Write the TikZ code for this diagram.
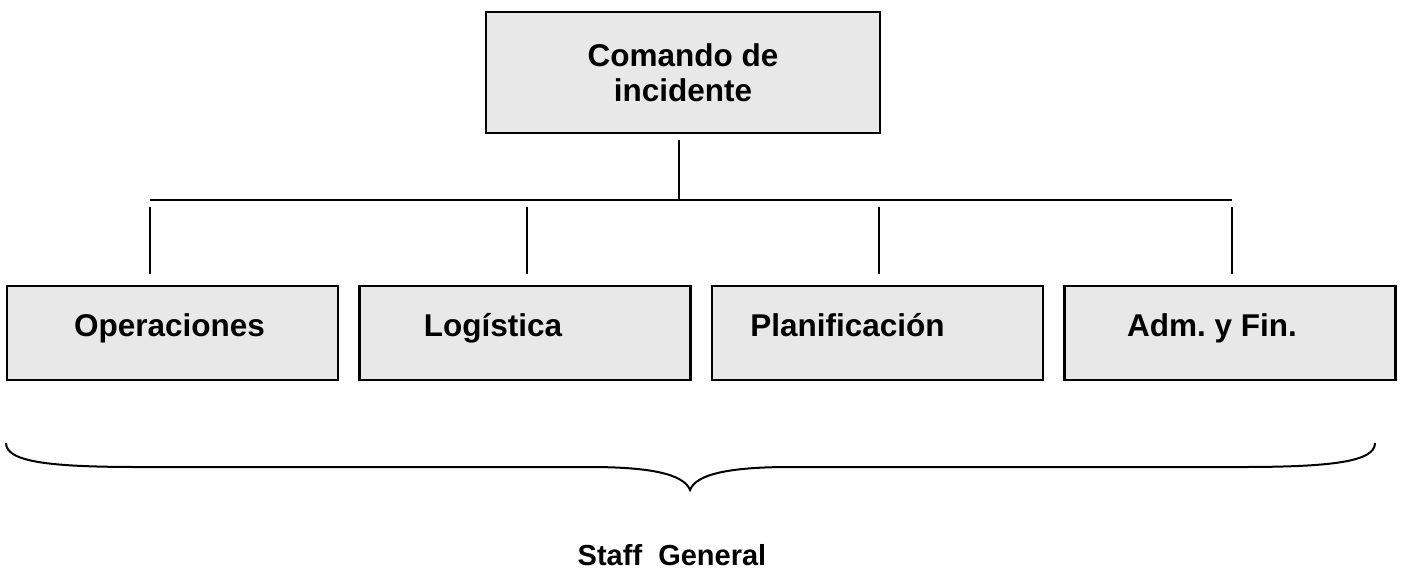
\documentclass[tikz,border=0pt]{standalone}
\usepackage{fontspec}
\setmainfont{Liberation Sans}
\frenchspacing

\begin{document}
\begin{tikzpicture}[x=0.5pt,y=-0.5pt,draw=black]
    \tikzstyle{unit}=[draw,fill=black!9,line width=1.2pt,inner sep=0pt,font=\bfseries\fontsize{15.75}{17.5}\selectfont]
    \tikzstyle{chief unit}=[unit,minimum width=197pt,minimum height=60.5pt,align=center]
    \tikzstyle{staff unit}=[unit,minimum width=165.5pt,minimum height=47pt,text height=12pt,text depth=9pt]
    \tikzstyle{tie}=[line width=1pt]

    \useasboundingbox (0,0) rectangle (1403,570);

    % Draw the incident command box
    \node[chief unit] (C) at (683,72.5) {Comando de\\incidente};

    % Draw the general staff boxes
    \foreach \name/\x/\pad/\unitname in {1/172.5/3pt/Operaciones,2/525/32pt/Logística,3/877.5/30pt/Planificación,4/1230/18pt/Adm. y Fin.}
        \node[staff unit] (S-\name) at (\x,333) {\unitname\hspace*{\pad}};

    % Connect the command box with the bus line
    \coordinate (bus) at (679,200);
    \draw[tie,shorten <=3pt] (C.south -| bus) -- (bus);

    % Draw the bus line and the drops to every staff box
    \foreach \name/\x in {1/150,2/527,3/879,4/1232}
        \coordinate (T-\name) at (\x,200);
    \draw[tie] (T-1) -- (T-4);
    \foreach \name in {1,...,4}
        \draw[tie,shorten <=3.5pt,shorten >=5.5pt] (T-\name) -- (T-\name |- S-\name.north);

    % Brace under the staff boxes
    \draw[tie] (6,443) .. controls (6,462) and (50,467) .. (140,467) -- (590,467)
        .. controls (650,467) and (684,474) .. (690,490)
        .. controls (696,474) and (730,467) .. (790,467) -- (1240,467)
        .. controls (1330,467) and (1375,462) .. (1375,443);

    % Annotate the brace
    \node[font=\bfseries\fontsize{14.5}{17}\selectfont,anchor=base] (staff) at (672,565) {Staff\ \ General};
\end{tikzpicture}
\end{document}
